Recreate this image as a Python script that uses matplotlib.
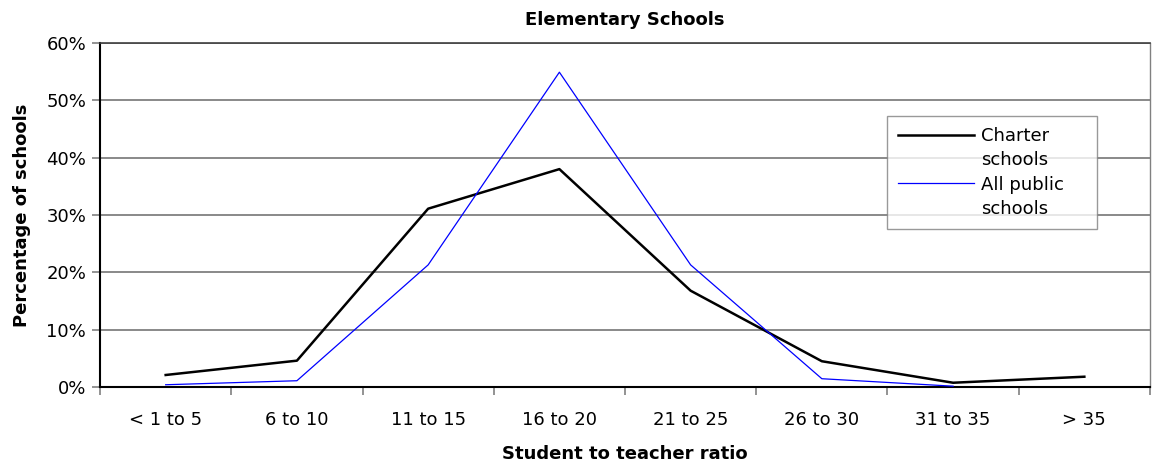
import numpy as np
import matplotlib
matplotlib.use('Agg')
from matplotlib import pyplot as plt
from matplotlib.lines import Line2D
from matplotlib.ticker import FixedLocator, PercentFormatter

# data (percent of schools)
categories = ['< 1 to 5', '6 to 10', '11 to 15', '16 to 20', '21 to 25', '26 to 30', '31 to 35', '> 35']
charter = [2.1, 4.6, 31.1, 38.0, 16.8, 4.5, 0.75, 1.8]
public = [0.4, 1.1, 21.3, 54.9, 21.3, 1.45, 0.15, np.nan]

plt.rcParams['font.family'] = 'DejaVu Sans'

fig = plt.figure(figsize=(11.54, 4.72), dpi=100)
ax = fig.add_axes([0.0867, 0.180, 0.9098, 0.729])

x = np.arange(len(categories))
l1, = ax.plot(x, charter, color='black', lw=1.8, zorder=3)
l2, = ax.plot(x, public, color='#0000ff', lw=0.9, zorder=3)

ax.set_xlim(-0.5, len(categories) - 0.5)
ax.set_ylim(0, 60)
ax.yaxis.set_major_locator(FixedLocator([0, 10, 20, 30, 40, 50, 60]))
ax.yaxis.set_major_formatter(PercentFormatter(decimals=0))
ax.grid(axis='y', color='#808080', lw=1.3)
ax.set_axisbelow(True)

# category labels centred, ticks at the boundaries
ax.set_xticks(x)
ax.set_xticklabels(categories)
ax.tick_params(axis='x', which='major', length=0, pad=17.5, labelsize=13)
ax.set_xticks(np.arange(-0.5, len(categories)), minor=True)
ax.tick_params(axis='x', which='minor', length=6, width=1.2, color='#808080')
ax.tick_params(axis='y', length=6, width=1.2, color='#808080', labelsize=13, pad=4)

for s in ['left', 'bottom']:
    ax.spines[s].set_color('black')
    ax.spines[s].set_linewidth(1.5)
ax.spines['top'].set_color('#404040')
ax.spines['top'].set_linewidth(1.2)
ax.spines['right'].set_color('#808080')
ax.spines['right'].set_linewidth(1.0)

ax.set_title('Elementary Schools', fontsize=13, fontweight='bold', pad=13)
ax.set_xlabel('Student to teacher ratio', fontsize=13, fontweight='bold', labelpad=11)
ax.set_ylabel('Percentage of schools', fontsize=13, fontweight='bold', labelpad=11)

# two-line labels with the line sample next to the first line, like Excel
blank = Line2D([], [], linestyle='none')
leg = ax.legend([l1, blank, l2, blank], ['Charter', 'schools', 'All public', 'schools'],
                loc='upper left', bbox_to_anchor=(0.7495, 0.46, 0.2, 0.327), mode='expand',
                fontsize=13, frameon=True, fancybox=False, edgecolor='#808080',
                handlelength=4.2, borderpad=0.6, labelspacing=0.35, handletextpad=0.4,
                borderaxespad=0)
leg.get_frame().set_linewidth(1.0)

plt.savefig('out.png', dpi=100)
